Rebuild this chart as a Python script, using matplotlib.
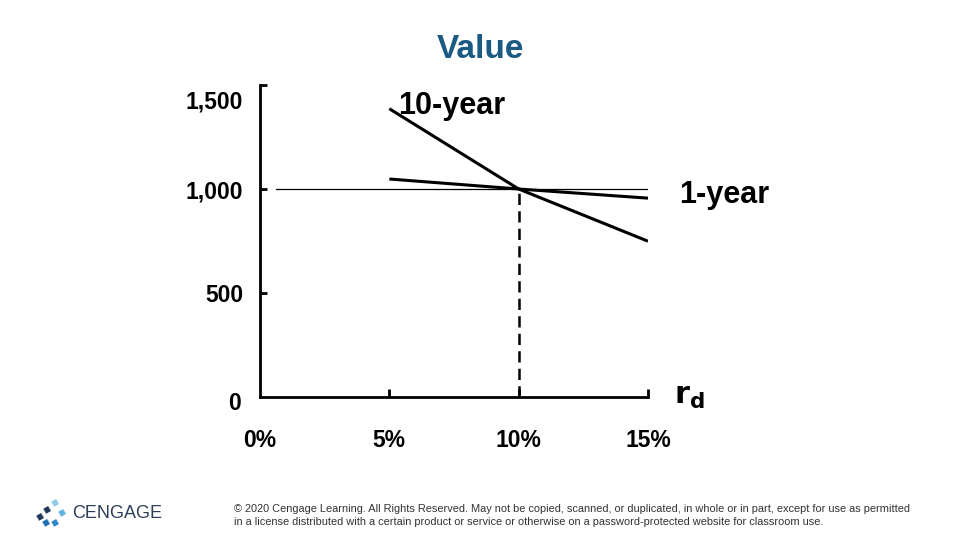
import matplotlib.pyplot as plt
from matplotlib.transforms import ScaledTranslation

plt.rcParams['font.family'] = ['Liberation Sans', 'DejaVu Sans']

# data
rates = [5, 10, 15]
ten_year = [1386, 1000, 749]
one_year = [1048, 1000, 956]
x_ticks = [0, 5, 10, 15]
x_labels = ['0%', '5%', '10%', '15%']
y_ticks = [0, 500, 1000, 1500]
y_labels = ['0', '500', '1,000', '1,500']
par_value = 1000
par_rate = 10

fig = plt.figure(figsize=(9.6, 5.4), dpi=100)
ax = fig.add_axes([260 / 960, 1 - 397 / 540, 388 / 960, 312 / 540])

ax.plot(rates, ten_year, color='black', lw=2.2, solid_capstyle='butt')
ax.plot(rates, one_year, color='black', lw=2.2, solid_capstyle='butt')
ax.plot([0.6, 15.1], [par_value, par_value], color='black', lw=0.9)
ax.plot([par_rate, par_rate], [0, par_value], color='black', lw=1.8,
        dashes=(4.5, 2.5))

ax.set_xlim(0, 15)
ax.set_ylim(0, 1500)
for s in ['top', 'right']:
    ax.spines[s].set_visible(False)
for s in ['left', 'bottom']:
    ax.spines[s].set_linewidth(2)

ax.set_xticks(x_ticks)
ax.set_xticklabels(x_labels, fontsize=16.5, fontweight='bold')
ax.set_yticks(y_ticks)
ax.set_yticklabels(y_labels, fontsize=16.5, fontweight='bold')
ax.tick_params(axis='x', direction='in', length=6, width=2, pad=23)
ax.tick_params(axis='y', direction='in', length=5, width=2, pad=12)
ax.xaxis.get_major_ticks()[0].tick1line.set_visible(False)
ax.yaxis.get_major_ticks()[0].tick1line.set_visible(False)
# top label sits a little below its tick
top = ax.get_yticklabels()[-1]
top.set_transform(top.get_transform() + ScaledTranslation(0, -15 / 100, fig.dpi_scale_trans))
zero = ax.get_yticklabels()[0]
zero.set_transform(zero.get_transform() + ScaledTranslation(-2 / 100, -4 / 100, fig.dpi_scale_trans))

ax.text(5.35, 1400, '10-year', fontsize=22, fontweight='bold', va='center', ha='left')
ax.text(16.2, 970, '1-year', fontsize=22, fontweight='bold', va='center', ha='left')
ax.text(16.0, 5, r'$\mathbf{r_d}$', fontsize=22, va='center', ha='left',
        clip_on=False)

fig.text(0.5, 1 - 50 / 540, 'Value', fontsize=24, fontweight='bold',
         color='#1b5a82', ha='center', va='center')

# footer
fig.text(72 / 960, 1 - 514 / 540, 'CENGAGE', fontsize=13, color='#2c3e58',
         ha='left', va='center')
logo_x = [40, 47, 55, 62, 55, 46]
logo_y = [517, 510, 503, 513, 523, 523]
logo_c = ['#1c3557', '#1c3557', '#8ccbe8', '#5fb4e0', '#2a86c5', '#1c6fb0']
for lx, ly, lc in zip(logo_x, logo_y, logo_c):
    fig.text(lx / 960, 1 - ly / 540, '\u25A0', color=lc, fontsize=8.5,
             ha='center', va='center', rotation=30)
fig.text(234 / 960, 1 - 509 / 540,
         '\u00a9 2020 Cengage Learning. All Rights Reserved. May not be copied, scanned, or duplicated, in whole or in part, except for use as permitted',
         fontsize=7.9, color='#333333', ha='left', va='center')
fig.text(234 / 960, 1 - 522 / 540,
         'in a license distributed with a certain product or service or otherwise on a password-protected website for classroom use.',
         fontsize=7.9, color='#333333', ha='left', va='center')

fig.savefig('out.png', dpi=100)
